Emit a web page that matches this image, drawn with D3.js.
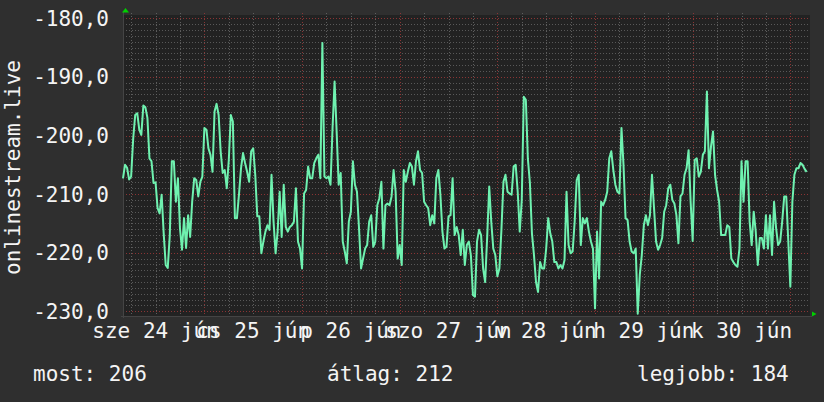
<!DOCTYPE html>
<html>
<head>
<meta charset="utf-8">
<script src="https://cdnjs.cloudflare.com/ajax/libs/d3/7.8.5/d3.min.js"></script>
<style>
body { margin: 0; background: #2f2f2f; }
text { font-family: "DejaVu Sans Mono", monospace; font-size: 21px; fill: #f4f4f4; }
</style>
</head>
<body>
<script>
// half-hour samples, starting sze 24 jún 04:00
var startTime = new Date(2015, 5, 24, 4, 0);
var endTime = new Date(2015, 6, 1, 4, 50);
var stepMinutes = 30;

var visitors = [
	-207.3, -205, -205.5, -207.5, -207, -200.6, -196.5, -196.2, -199, -199.9,
	-194.9, -195.2, -197, -203.9, -204.4, -208.1, -208, -212.4, -213.3, -210.1,
	-216.7, -222.1, -222.6, -217, -204.4, -204.4, -211.3, -207.3, -215.8, -219.5,
	-214.1, -219.2, -213.6, -217.3, -211.3, -207.3, -207.6, -210.4, -207.9, -207,
	-198.7, -199, -202.2, -203.3, -206.2, -195.9, -194.6, -196.5, -202.7, -206.4,
	-205.9, -209, -204.2, -196.5, -197.6, -214.1,
	-214.1, -210.1, -205.6, -203, -204.7, -206.2, -207.9, -202.7, -202.2, -206.7,
	-213.8, -213.8, -220.1, -218.1, -216.4, -215.3, -216.1, -206.7, -214.7, -220.1,
	-216.4, -209.6, -217.3, -208.4, -215.6, -216.4, -215.6, -215.3, -214.7, -209,
	-218.1, -219.3, -222.7, -209.9, -209.3, -205.3, -207.3, -207.3, -204.7, -203.9,
	-203.3, -207.3, -184.2, -207, -207.3, -207, -208.4, -198.7, -190.8, -199.3,
	-208.4, -206.4, -218.1, -219.8, -221.8, -214.7, -213, -204.4,
	-208.4, -209.6, -215.8, -222.7, -221, -219.3, -218.7, -214.7, -213.6, -219,
	-218.1, -211.9, -210.7, -207.9, -219.3, -211.9, -211.6, -211.9, -210.4, -205.9,
	-209.6, -221, -218.7, -222.1, -205.9, -207.9, -206.2, -204.7, -205.3, -208.4,
	-204.4, -202.7, -205.9, -206.4, -211.3, -211.9, -212.4, -215.3, -213.6, -215,
	-207.3, -205.9, -210.1, -216.4, -219.3, -219, -213.8, -213.6, -207.3, -217,
	-215.6, -217, -220.4, -216.1, -222.1, -218.7,
	-218.1, -220.5, -227.2, -227.5, -218.1, -216.1, -217, -222.7, -225, -217.3,
	-208.7, -214.7, -219.3, -220.4, -224, -222.7, -216.1, -207.9, -206.7, -209.6,
	-209.9, -210.1, -205.3, -205, -209.6, -216.4, -211, -193.4, -193.9, -204,
	-208.1, -216.7, -220.4, -225, -226.7, -221.6, -222.7, -222.7, -219.3, -214.1,
	-216.7, -218.1, -221.6, -221.6, -222.7, -222.1, -222.7, -221.3, -209.6, -218.7,
	-220.1, -219.8, -214.7, -207.6, -206.7, -218.7, -214.1,
	-215, -214.1, -216.4, -218.1, -219.3, -229.5, -216.4, -224.4, -211.3, -211.9,
	-211, -209.6, -203.9, -202.7, -205.9, -208.4, -209.6, -209.9, -198.7, -205,
	-214.1, -214.4, -218.1, -219.8, -220.1, -219.3, -230.4, -223.8, -220.4, -215.3,
	-213.6, -215.3, -213.6, -206.7, -212.4, -218.1, -219.5, -218.7, -217.5, -213,
	-211.9, -209, -208.4, -211, -211.6, -213.6, -218.4, -210.4, -209.9, -206.7,
	-205.6, -202.5, -211.3, -218, -204.2, -203.9, -207,
	-206.2, -203.3, -202.7, -192.5, -205.6, -201.9, -199.3, -206.7, -209.3, -211.3,
	-217, -217, -217, -215.3, -215.6, -221, -221.6, -222.1, -222.4, -219.3,
	-204.4, -211.3, -204.4, -204.4, -214.7, -218.7, -213, -216.4, -222.1, -217.5,
	-217.5, -219.3, -213.6, -219.3, -213.6, -220.4, -211.3, -215.8, -218.7, -218.1,
	-214.7, -210.4, -210.4, -218.1, -225.8, -211.3, -206.7, -205.6, -205.6, -204.7,
	-205, -205.7, -206.2
];

var yTicks = [-230, -220, -210, -200, -190, -180];
var yTitle = "onlinestream.live";
var legendNames = ["most", "átlag", "legjobb"];
var legendValues = [206, 212, 184];

var huLocale = d3.timeFormatLocale({
	dateTime: "%Y. %B %-e., %A %X",
	date: "%Y. %m. %d.",
	time: "%H:%M:%S",
	periods: ["de.", "du."],
	days: ["vasárnap", "hétfő", "kedd", "szerda", "csütörtök", "péntek", "szombat"],
	shortDays: ["v", "h", "k", "sze", "cs", "p", "szo"],
	months: ["január", "február", "március", "április", "május", "június", "július", "augusztus", "szeptember", "október", "november", "december"],
	shortMonths: ["jan", "febr", "márc", "ápr", "máj", "jún", "júl", "aug", "szept", "okt", "nov", "dec"]
});
var dayFormat = huLocale.format("%a %d %b");

var width = 824, height = 402;
var plotLeft = 123, plotRight = 810, plotTop = 15, plotBottom = 316;

var data = visitors.map(function (v, i) {
	return { t: d3.timeMinute.offset(startTime, i * stepMinutes), v: v };
});

var x = d3.scaleTime().domain([startTime, endTime]).range([plotLeft, plotRight]);
var y = d3.scaleLinear().domain([-230, -180]).range([311.3, 18.3]);

var svg = d3.select("body").append("svg")
	.attr("width", width)
	.attr("height", height);

svg.append("rect")
	.attr("width", width).attr("height", height)
	.attr("fill", "#2f2f2f");

svg.append("rect")
	.attr("x", plotLeft).attr("y", plotTop)
	.attr("width", plotRight - plotLeft).attr("height", plotBottom - plotTop)
	.attr("fill", "#222222");

var grid = svg.append("g").attr("stroke-width", 1).attr("shape-rendering", "crispEdges");

// minor grid
grid.selectAll(".hminor")
	.data(d3.range(-230, -179, 1))
	.enter().append("line")
	.attr("x1", plotLeft).attr("x2", plotRight)
	.attr("y1", function (d) { return Math.round(y(d)) + 0.5; })
	.attr("y2", function (d) { return Math.round(y(d)) + 0.5; })
	.attr("stroke", "#585858")
	.attr("stroke-dasharray", "1,2");

grid.selectAll(".vminor")
	.data(d3.timeHour.every(6).range(startTime, endTime))
	.enter().append("line")
	.attr("x1", function (d) { return Math.round(x(d)) + 0.5; })
	.attr("x2", function (d) { return Math.round(x(d)) + 0.5; })
	.attr("y1", plotTop - 2).attr("y2", plotBottom)
	.attr("stroke", "#5e5e5e")
	.attr("stroke-dasharray", "1,2");

// major grid
grid.selectAll(".hmajor")
	.data(yTicks)
	.enter().append("line")
	.attr("x1", plotLeft).attr("x2", plotRight)
	.attr("y1", function (d) { return Math.round(y(d)) + 0.5; })
	.attr("y2", function (d) { return Math.round(y(d)) + 0.5; })
	.attr("stroke", "#8a3434")
	.attr("stroke-dasharray", "1,2");

var days = d3.timeDay.range(d3.timeDay.ceil(startTime), endTime);
grid.selectAll(".vmajor")
	.data(days)
	.enter().append("line")
	.attr("x1", function (d) { return Math.round(x(d)) + 0.5; })
	.attr("x2", function (d) { return Math.round(x(d)) + 0.5; })
	.attr("y1", plotTop - 2).attr("y2", plotBottom)
	.attr("stroke", "#8a3434")
	.attr("stroke-dasharray", "1,2");

// axes lines + arrows
svg.append("line")
	.attr("x1", plotLeft - 2).attr("x2", plotRight + 2)
	.attr("y1", plotBottom + 0.5).attr("y2", plotBottom + 0.5)
	.attr("stroke", "#444");
svg.append("line")
	.attr("x1", plotLeft + 0.5).attr("x2", plotLeft + 0.5)
	.attr("y1", plotTop - 3).attr("y2", plotBottom + 2)
	.attr("stroke", "#444");
svg.append("path")
	.attr("d", "M" + (plotLeft - 1) + ",12.5L" + (plotLeft + 2.5) + ",8L" + (plotLeft + 6) + ",12.5Z")
	.attr("fill", "#00d000");
svg.append("path")
	.attr("d", "M" + (plotRight + 2) + ",311.5L" + (plotRight + 6.5) + ",314L" + (plotRight + 2) + ",316.5Z")
	.attr("fill", "#00d000");

var line = d3.line()
	.x(function (d) { return x(d.t); })
	.y(function (d) { return y(d.v); });

svg.append("path")
	.datum(data)
	.attr("d", line)
	.attr("fill", "none")
	.attr("stroke", "#6ff2b0")
	.attr("stroke-width", 2)
	.attr("stroke-linejoin", "round");

// y labels
svg.selectAll(".ylab")
	.data(yTicks)
	.enter().append("text")
	.attr("x", 109)
	.attr("y", function (d) { return y(d); })
	.attr("dy", "0.36em")
	.attr("text-anchor", "end")
	.text(function (d) { return d3.format(".1f")(d).replace(".", ",").replace("−", "-"); });

// x labels, centred on noon of each day
svg.selectAll(".xlab")
	.data(d3.timeDay.range(d3.timeDay.floor(startTime), d3.timeDay.floor(endTime)))
	.enter().append("text")
	.attr("x", function (d) { return x(d3.timeHour.offset(d, 12)); })
	.attr("y", 338)
	.attr("text-anchor", "middle")
	.text(function (d) { return dayFormat(d); });

svg.append("text")
	.attr("transform", "translate(19.5," + ((plotTop + plotBottom) / 2 + 2) + ") rotate(-90)")
	.attr("text-anchor", "middle")
	.text(yTitle);

var legendX = [33, 327, 637];
svg.selectAll(".legend")
	.data(legendNames)
	.enter().append("text")
	.attr("x", function (d, i) { return legendX[i]; })
	.attr("y", 381)
	.text(function (d, i) { return d + ": " + legendValues[i]; });
</script>
</body>
</html>
